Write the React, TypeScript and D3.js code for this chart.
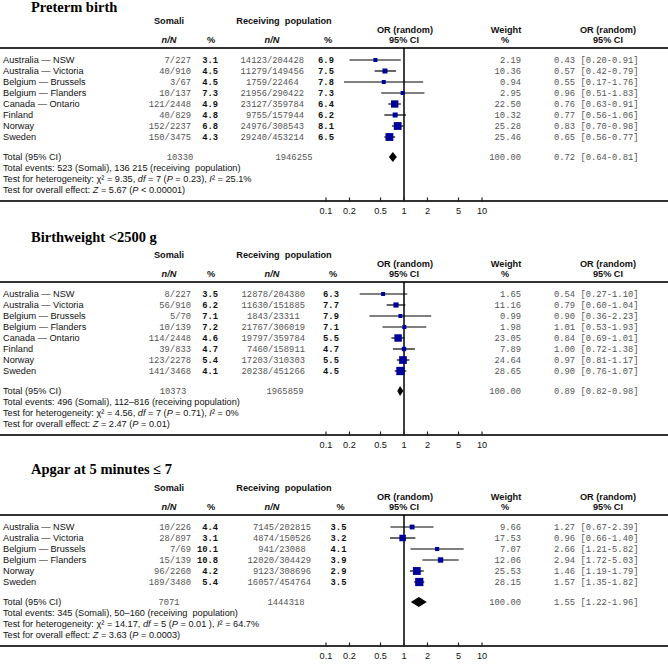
import React from "react";
import * as d3 from "d3";

const W = 668;
const H = 666;

// ---------- Panel 1: Preterm birth ----------
const title1 = "Preterm birth";
const studies1 = ["Australia — NSW", "Australia — Victoria", "Belgium — Brussels", "Belgium — Flanders", "Canada — Ontario", "Finland", "Norway", "Sweden"];
const somaliN1 = ["7/227", "40/910", "3/67", "10/137", "121/2448", "40/829", "152/2237", "150/3475"];
const somaliPct1 = ["3.1", "4.5", "4.5", "7.3", "4.9", "4.8", "6.8", "4.3"];
const recN1 = ["14123/204428", "11279/149456", "1759/22464", "21956/290422", "23127/359784", "9755/157944", "24976/308543", "29240/453214"];
const recPct1 = ["6.9", "7.5", "7.8", "7.3", "6.4", "6.2", "8.1", "6.5"];
const weight1 = [2.19, 10.36, 0.94, 2.95, 22.5, 10.32, 25.28, 25.46];
const or1 = [0.43, 0.57, 0.55, 0.96, 0.76, 0.77, 0.83, 0.65];
const lo1 = [0.2, 0.42, 0.17, 0.51, 0.63, 0.56, 0.7, 0.56];
const hi1 = [0.91, 0.79, 1.76, 1.83, 0.91, 1.06, 0.98, 0.77];
const totals1 = ["10330", "1946255"];
const pooled1 = [0.72, 0.64, 0.81];
const events1 = "Total events: 523 (Somali), 136 215 (receiving  population)";
const het1 = ["9.35", "7", "= 0.23", "25.1%"];
const overall1 = ["5.67", "< 0.00001"];

// ---------- Panel 2: Birthweight <2500 g ----------
const title2 = "Birthweight <2500 g";
const studies2 = ["Australia — NSW", "Australia — Victoria", "Belgium — Brussels", "Belgium — Flanders", "Canada — Ontario", "Finland", "Norway", "Sweden"];
const somaliN2 = ["8/227", "56/910", "5/70", "10/139", "114/2448", "39/833", "123/2278", "141/3468"];
const somaliPct2 = ["3.5", "6.2", "7.1", "7.2", "4.6", "4.7", "5.4", "4.1"];
const recN2 = ["12878/204380", "11630/151885", "1843/23311", "21767/306019", "19797/359784", "7460/158911", "17203/310303", "20238/451266"];
const recPct2 = ["6.3", "7.7", "7.9", "7.1", "5.5", "4.7", "5.5", "4.5"];
const weight2 = [1.65, 11.16, 0.99, 1.98, 23.05, 7.89, 24.64, 28.65];
const or2 = [0.54, 0.79, 0.9, 1.01, 0.84, 1.0, 0.97, 0.9];
const lo2 = [0.27, 0.6, 0.36, 0.53, 0.69, 0.72, 0.81, 0.76];
const hi2 = [1.1, 1.04, 2.23, 1.93, 1.01, 1.38, 1.17, 1.07];
const totals2 = ["10373", "1965859"];
const pooled2 = [0.89, 0.82, 0.98];
const events2 = "Total events: 496 (Somali), 112–816 (receiving population)";
const het2 = ["4.56", "7", "= 0.71", "0%"];
const overall2 = ["2.47", "= 0.01"];

// ---------- Panel 3: Apgar at 5 minutes ≤ 7 ----------
const title3 = "Apgar at 5 minutes ≤ 7";
const studies3 = ["Australia — NSW", "Australia — Victoria", "Belgium — Brussels", "Belgium — Flanders", "Norway", "Sweden"];
const somaliN3 = ["10/226", "28/897", "7/69", "15/139", "96/2260", "189/3480"];
const somaliPct3 = ["4.4", "3.1", "10.1", "10.8", "4.2", "5.4"];
const recN3 = ["7145/202815", "4874/150526", "941/23088", "12020/304429", "9123/308696", "16057/454764"];
const recPct3 = ["3.5", "3.2", "4.1", "3.9", "2.9", "3.5"];
const weight3 = [9.66, 17.53, 7.07, 12.06, 25.53, 28.15];
const or3 = [1.27, 0.96, 2.66, 2.94, 1.46, 1.57];
const lo3 = [0.67, 0.66, 1.21, 1.72, 1.19, 1.35];
const hi3 = [2.39, 1.4, 5.82, 5.03, 1.79, 1.82];
const totals3 = ["7071", "1444318"];
const pooled3 = [1.55, 1.22, 1.96];
const events3 = "Total events: 345 (Somali), 50–160 (receiving  population)";
const het3 = ["14.17", "5", "= 0.01 ", "64.7%"];
const overall3 = ["3.63", "= 0.0003"];

const tickValues = [0.1, 0.2, 0.5, 1, 2, 5, 10];
const tickLabels = ["0.1", "0.2", "0.5", "1", "2", "5", "10"];

const SANS = "'Liberation Sans', Arial, Helvetica, sans-serif";
const MONO = "'Liberation Mono', 'Courier New', monospace";
const SERIF = "'Liberation Serif', 'Times New Roman', serif";
const MONO_SIZE = 8.8;
const CW = MONO_SIZE * 0.6;

const x = d3.scaleLog().domain([0.1, 10]).range([326, 482]);
const sq = d3.scaleSqrt().domain([0, 30]).range([0, 8.5]);
const f2 = d3.format(".2f");

type PanelData = {
  title: string; titleY: number; base: number;
  studies: string[]; somN: string[]; somPct: string[]; recN: string[]; recPct: string[];
  weight: number[]; or: number[]; lo: number[]; hi: number[];
  totals: string[]; pooled: number[]; events: string; het: string[]; overall: string[];
  recSlash: number; recPctX: number; somTotX: number; recTotX: number;
};

const panels: PanelData[] = [
  { title: title1, titleY: 12, base: 0, studies: studies1, somN: somaliN1, somPct: somaliPct1, recN: recN1, recPct: recPct1, weight: weight1, or: or1, lo: lo1, hi: hi1, totals: totals1, pooled: pooled1, events: events1, het: het1, overall: overall1, recSlash: 267, recPctX: 326, somTotX: 180, recTotX: 294 },
  { title: title2, titleY: 242, base: 234, studies: studies2, somN: somaliN2, somPct: somaliPct2, recN: recN2, recPct: recPct2, weight: weight2, or: or2, lo: lo2, hi: hi2, totals: totals2, pooled: pooled2, events: events2, het: het2, overall: overall2, recSlash: 268, recPctX: 331, somTotX: 173, recTotX: 285 },
  { title: title3, titleY: 474, base: 467, studies: studies3, somN: somaliN3, somPct: somaliPct3, recN: recN3, recPct: recPct3, weight: weight3, or: or3, lo: lo3, hi: hi3, totals: totals3, pooled: pooled3, events: events3, het: het3, overall: overall3, recSlash: 274, recPctX: 338.5, somTotX: 169, recTotX: 286 },
];

const Panel = ({ p }: { p: PanelData }) => {
  const n = p.studies.length;
  const rowY = (i: number) => p.base + 60 + 11 * i;
  const totY = rowY(n - 1) + 20;
  const axisY = totY + 44;
  const ruleY = p.base + 48;
  const h1 = p.base + 21;
  const h2 = p.base + 30;
  const h3 = p.base + 40;
  const dy = "0.35em";
  const hdr = { fontFamily: SANS, fontSize: 9.2, fontWeight: 700, fill: "#111" } as any;
  const body = { fontFamily: SANS, fontSize: 9.2, fill: "#111" } as any;
  const mono = { fontFamily: MONO, fontSize: MONO_SIZE, fill: "#555" } as any;
  const monoB = { fontFamily: MONO, fontSize: MONO_SIZE, fontWeight: 700, fill: "#111" } as any;
  const [pm, pl, ph] = p.pooled;
  const dH = 5;
  return (
    <g>
      <text x={31} y={p.titleY} fontFamily={SERIF} fontSize={14.5} fontWeight={700} fill="#000">{p.title}</text>
      {/* headers */}
      <text x={169} y={h1} dy={dy} textAnchor="middle" {...hdr}>Somali</text>
      <text x={284} y={h1} dy={dy} textAnchor="middle" {...hdr} style={{ whiteSpace: "pre" }}>Receiving  population</text>
      <text x={169} y={h3} dy={dy} textAnchor="middle" {...hdr} fontStyle="italic">n/N</text>
      <text x={211} y={h3} dy={dy} textAnchor="middle" {...hdr}>%</text>
      <text x={272} y={h3} dy={dy} textAnchor="middle" {...hdr} fontStyle="italic">n/N</text>
      <text x={p.recPctX + 2} y={h3} dy={dy} textAnchor="middle" {...hdr}>%</text>
      <text x={405} y={h2} dy={dy} textAnchor="middle" {...hdr}>OR (random)</text>
      <text x={404} y={h3} dy={dy} textAnchor="middle" {...hdr}>95% CI</text>
      <text x={506} y={h2} dy={dy} textAnchor="middle" {...hdr}>Weight</text>
      <text x={505} y={h3} dy={dy} textAnchor="middle" {...hdr}>%</text>
      <text x={608} y={h2} dy={dy} textAnchor="middle" {...hdr}>OR (random)</text>
      <text x={608} y={h3} dy={dy} textAnchor="middle" {...hdr}>95% CI</text>
      <line x1={0} x2={W} y1={ruleY} y2={ruleY} stroke="#333" strokeWidth={2} />
      {/* reference line at OR = 1 */}
      <line x1={x(1)} x2={x(1)} y1={ruleY} y2={axisY} stroke="#000" strokeWidth={1.5} />
      {/* rows */}
      {p.studies.map((s, i) => {
        const y = rowY(i);
        const [num, den] = p.recN[i].split("/");
        const side = Math.max(4, sq(p.weight[i]));
        return (
          <g key={i}>
            <text x={3} y={y} dy={dy} {...body}>{s}</text>
            <text x={191} y={y} dy={dy} textAnchor="end" {...mono}>{p.somN[i]}</text>
            <text x={218} y={y} dy={dy} textAnchor="end" {...monoB}>{p.somPct[i]}</text>
            <text x={p.recSlash - num.length * CW} y={y} dy={dy} {...mono}>{num + "/" + den}</text>
            <text x={p.recPctX} y={y} dy={dy} textAnchor="middle" {...monoB}>{p.recPct[i]}</text>
            <line x1={x(p.lo[i])} x2={x(p.hi[i])} y1={y} y2={y} stroke="#000" strokeWidth={1.2} />
            <rect x={x(p.or[i]) - side / 2} y={y - side / 2} width={side} height={side} fill="#00009a" />
            <text x={521} y={y} dy={dy} textAnchor="end" {...mono}>{f2(p.weight[i])}</text>
            <text x={554} y={y} dy={dy} {...mono}>{`${f2(p.or[i])} [${f2(p.lo[i])}-${f2(p.hi[i])}]`}</text>
          </g>
        );
      })}
      {/* total */}
      <text x={3} y={totY} dy={dy} {...body}>Total (95% CI)</text>
      <text x={p.somTotX} y={totY} dy={dy} textAnchor="middle" {...mono}>{p.totals[0]}</text>
      <text x={p.recTotX} y={totY} dy={dy} textAnchor="middle" {...mono}>{p.totals[1]}</text>
      <path d={`M${x(pl)},${totY} L${x(pm)},${totY - dH} L${x(ph)},${totY} L${x(pm)},${totY + dH} Z`} fill="#000" />
      <text x={521} y={totY} dy={dy} textAnchor="end" {...mono}>100.00</text>
      <text x={554} y={totY} dy={dy} {...mono}>{`${f2(pm)} [${f2(pl)}-${f2(ph)}]`}</text>
      <text x={3} y={totY + 11} dy={dy} {...body} style={{ whiteSpace: "pre" }}>{p.events}</text>
      <text x={3} y={totY + 22} dy={dy} {...body}>
        {"Test for heterogeneity: χ² = " + p.het[0] + ", "}
        <tspan fontStyle="italic">df</tspan>
        {" = " + p.het[1] + " ("}
        <tspan fontStyle="italic">P</tspan>
        {" " + p.het[2] + "), "}
        <tspan fontStyle="italic">I</tspan>
        {"² = " + p.het[3]}
      </text>
      <text x={3} y={totY + 33} dy={dy} {...body}>
        {"Test for overall effect: "}
        <tspan fontStyle="italic">Z</tspan>
        {" = " + p.overall[0] + " ("}
        <tspan fontStyle="italic">P</tspan>
        {" " + p.overall[1] + ")"}
      </text>
      {/* axis */}
      <line x1={0} x2={W} y1={axisY} y2={axisY} stroke="#333" strokeWidth={1.8} />
      {tickValues.map((t, i) => (
        <g key={t}>
          <line x1={x(t)} x2={x(t)} y1={axisY - 3.5} y2={axisY + 1} stroke="#222" strokeWidth={1.2} />
          <text x={x(t)} y={axisY + 9.5} dy={dy} textAnchor="middle" {...body}>{tickLabels[i]}</text>
        </g>
      ))}
    </g>
  );
};

export default function App() {
  return (
    <div style={{ position: "absolute", left: 0, top: 0, width: W, height: H, background: "#fff" }}>
      <svg width={W} height={H} viewBox={`0 0 ${W} ${H}`} style={{ display: "block" }}>
        <rect width={W} height={H} fill="#fff" />
        {panels.map((p, i) => <Panel key={i} p={p} />)}
      </svg>
    </div>
  );
}
